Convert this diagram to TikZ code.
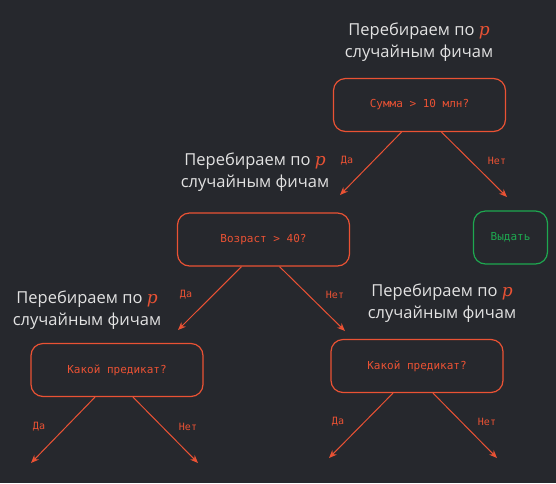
\documentclass[tikz,border=0pt]{standalone}
\usepackage{fontspec}
\setmainfont{Open Sans}
\setmonofont{DejaVu Sans Mono}
\newfontfamily\pfont{DejaVu Serif}
\usetikzlibrary{arrows.meta}
\definecolor{bg}{RGB}{38,40,45}
\definecolor{treered}{RGB}{234,82,52}
\definecolor{leafgreen}{RGB}{30,168,80}
\definecolor{hintgray}{RGB}{226,226,226}
\newcommand{\pvar}{\textcolor{treered}{\pfont\itshape\fontsize{17}{22}\selectfont p}}
\begin{document}
\begin{tikzpicture}[x=1pt,y=-1pt,
    cond/.style={draw=treered,rounded corners=12pt,line width=1.2pt,minimum width=172pt,minimum height=53pt,text=treered,font=\ttfamily\fontsize{11}{13}\selectfont},
    leaf/.style={cond,draw=leafgreen,text=leafgreen,minimum width=74pt},
    hint/.style={text=hintgray,align=center,font=\fontsize{16.5}{22}\selectfont},
    edge/.style={treered,line width=1pt,-{Stealth[length=8pt,width=6.5pt]}},
    ans/.style={text=treered,font=\ttfamily\fontsize{10}{12}\selectfont}]
        \fill[bg] (0,0) rectangle (556,483);
        \useasboundingbox (0,0) rectangle (556,483);
        % hints
        \node[hint] (hint1) at (419,42) {Перебираем по \pvar\\случайным фичам};
        \node[hint] (hint2) at (255,172) {Перебираем по \pvar\\случайным фичам};
        \node[hint] (hint3) at (87,310) {Перебираем по \pvar\\случайным фичам};
        \node[hint] (hint4) at (442,303) {Перебираем по \pvar\\случайным фичам};
        % tree
        \node[cond] (sum) at (419.5,105) {Сумма > 10 млн?};
        \node[cond] (age) at (263.5,239.5) {Возраст > 40?};
        \node[leaf] (give) at (510.5,237.5) {Выдать};
        \node[cond] (predl) at (117,370) {Какой предикат?};
        \node[cond] (predr) at (417,366) {Какой предикат?};
        \coordinate (endage) at (340,195);
        \coordinate (endgive) at (507,197);
        \coordinate (endpredl) at (178,330);
        \coordinate (endpredr) at (345,331);
        \coordinate (endl1) at (31,463);
        \coordinate (endl2) at (198,463);
        \coordinate (endr1) at (329,458);
        \coordinate (endr2) at (497,458);
        \draw[edge] ([xshift=-18pt]sum.south) -- (endage);
        \draw[edge] ([xshift=22pt]sum.south) -- (endgive);
        \draw[edge] ([xshift=-22pt]age.south) -- (endpredl);
        \draw[edge] ([xshift=16pt]age.south) -- (endpredr);
        \draw[edge] ([xshift=-22pt]predl.south) -- (endl1);
        \draw[edge] ([xshift=16pt]predl.south) -- (endl2);
        \draw[edge] ([xshift=-24pt]predr.south) -- (endr1);
        \draw[edge] ([xshift=16pt]predr.south) -- (endr2);
        % answers
        \node[ans] (yes1) at (347,161) {Да};
        \node[ans] (no1) at (497,161) {Нет};
        \node[ans] (yes2) at (186,295) {Да};
        \node[ans] (no2) at (335,295) {Нет};
        \node[ans] (yes3) at (39,427) {Да};
        \node[ans] (no3) at (188,427) {Нет};
        \node[ans] (yes4) at (338,422) {Да};
        \node[ans] (no4) at (487,422) {Нет};
    \end{tikzpicture}
\end{document}
